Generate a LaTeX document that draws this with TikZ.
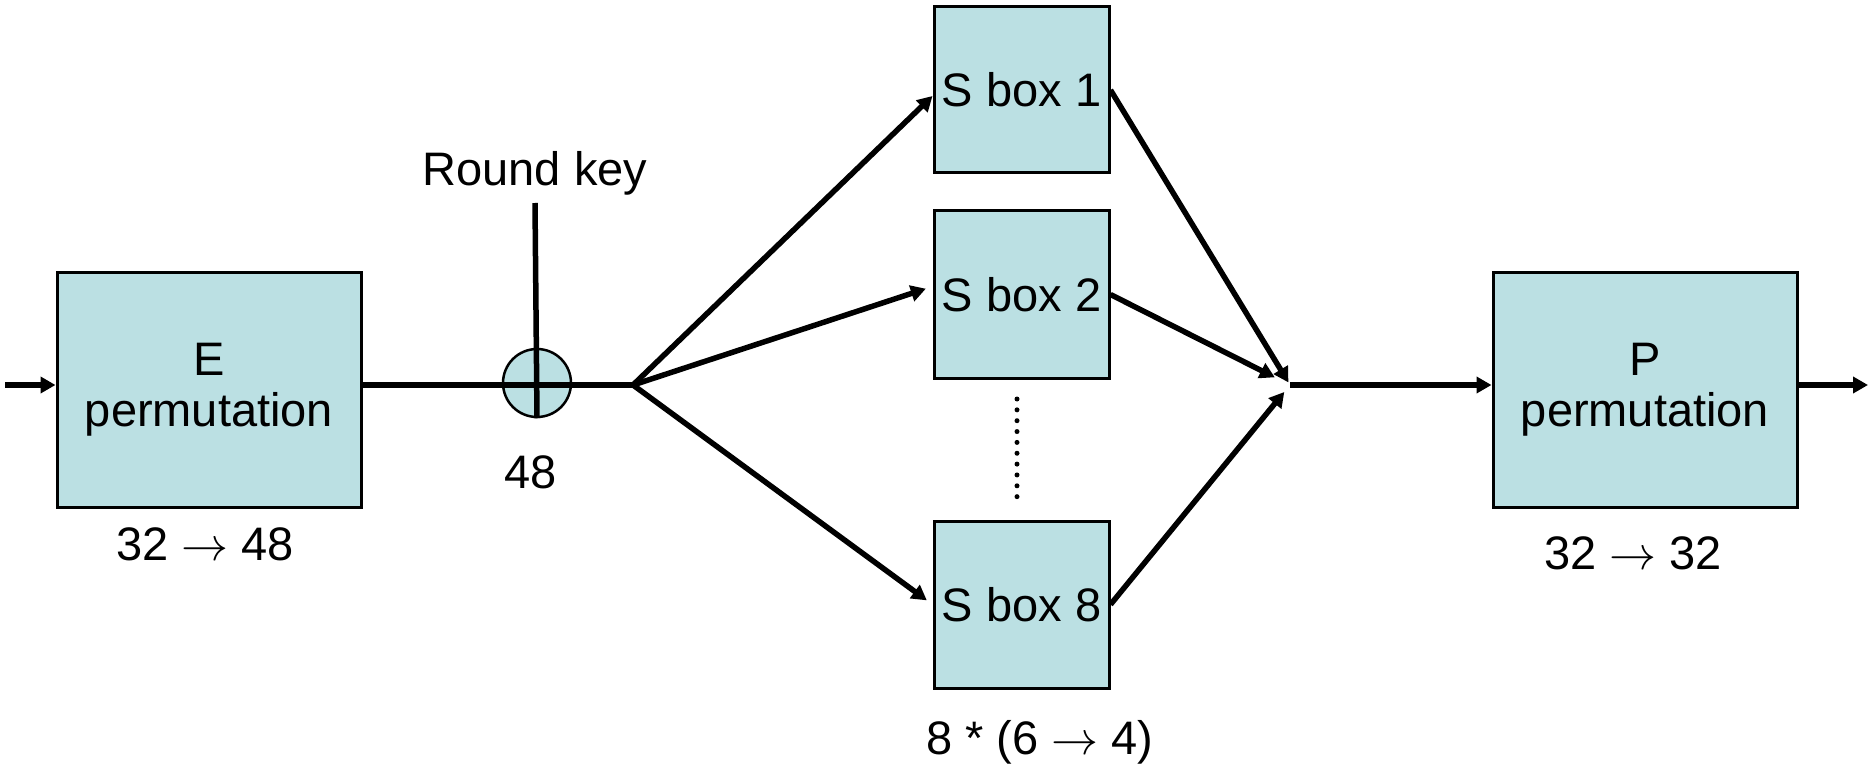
\RequirePackage{fix-cm}
\documentclass[tikz,border=0pt]{standalone}
\usepackage{fontspec}
\setmainfont{Liberation Sans}
\usetikzlibrary{arrows.meta}
\definecolor{boxfill}{HTML}{BBE0E3}
\newcommand{\rarr}{$\rightarrow$}
\begin{document}
\begin{tikzpicture}[x=1pt,y=-1pt,
  blockbox/.style={draw=black,line width=3pt,fill=boxfill,inner sep=0pt,
    font=\fontsize{47}{51}\selectfont,align=center},
  lbl/.style={font=\fontsize{47}{51}\selectfont,inner sep=0pt},
  conn/.style={line width=5.5pt},
  arr/.style={line width=5.5pt,-{Triangle[length=15pt,width=16pt]}}]
\useasboundingbox (0,0) rectangle (1868,770);
% blocks
\node[blockbox,minimum width=304pt,minimum height=235pt] (E) at (209,389.5) {E\\permutation};
\node[blockbox,minimum width=304pt,minimum height=235pt] (P) at (1645,389.5) {P\\permutation};
\node[blockbox,minimum width=175pt,minimum height=166pt] (S1) at (1021.5,90) {S box 1};
\node[blockbox,minimum width=175pt,minimum height=167pt] (S2) at (1021.5,294.5) {S box 2};
\node[blockbox,minimum width=175pt,minimum height=167pt] (S8) at (1021.5,604.5) {S box 8};
\node[draw=black,line width=2.5pt,fill=boxfill,circle,minimum size=68pt,inner sep=0pt] (xor) at (537,383) {};
% coordinates
\coordinate (in) at (5,385);
\coordinate (out) at (1868,385);
\coordinate (fork) at (633,385);
\coordinate (merge) at (1290,385);
\coordinate (keytop) at (535,203);
% labels
\node[lbl] (rk) at (535,173) {Round key};
\node[lbl] (l48) at (531,472) {48};
\node[lbl] (le) at (205,544) {32 \rarr{} 48};
\node[lbl] (lp) at (1633,553) {32 \rarr{} 32};
\node[lbl] (ls) at (1040,742) {8 * (6 \rarr{} 4)};
% connectors
\draw[arr] (in) -- (in -| E.west);
\draw[conn] (fork -| E.east) -- (fork);
\draw[conn] (keytop) -- (xor.south);
\draw[arr] (fork) -- ([yshift=-6pt]S1.west);
\draw[arr,shorten >=7pt] (fork) -- ([yshift=8pt]S2.west);
\draw[arr,shorten >=7pt] (fork) -- (S8.west);
\draw[arr,shorten >=3pt] (S1.east) -- (merge);
\draw[arr,shorten >=17pt] (S2.east) -- (merge);
\draw[arr,shorten >=9pt] (S8.east) -- (merge);
\draw[arr] (merge) -- (merge -| P.west);
\draw[arr] (out -| P.east) -- (out);
% dots
\draw[line width=5pt,line cap=round,dash pattern=on 0pt off 10.85pt] (1017,399) -- (1017,497);
\end{tikzpicture}
\end{document}
